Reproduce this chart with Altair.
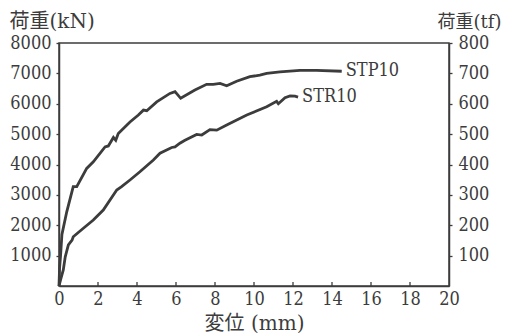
import altair as alt
import pandas as pd

# STP10 curve (displacement mm, load kN)
stp_x = [0, 0.03, 0.08, 0.15, 0.4, 0.73, 0.91, 1.42, 1.76, 2.36, 2.53, 2.79, 2.91, 3.04,
         3.64, 4.07, 4.33, 4.5, 5.01, 5.69, 5.95, 6.24, 6.97, 7.57, 7.91, 8.26, 8.6,
         9.11, 9.79, 10.3, 10.65, 11.33, 12.36, 13.2, 14.5]
stp_y = [0, 600, 1000, 1700, 2450, 3270, 3270, 3870, 4090, 4580, 4610, 4890, 4800, 5020,
         5400, 5630, 5790, 5770, 6060, 6340, 6400, 6180, 6450, 6640, 6640, 6670, 6590,
         6740, 6890, 6940, 7000, 7050, 7100, 7100, 7070]

# STR10 curve
str_x = [0, 0.1, 0.22, 0.32, 0.48, 0.67, 0.73, 1.25, 1.76, 2.27, 2.96, 3.21, 3.64, 4.15,
         4.84, 5.18, 5.78, 5.95, 6.2, 6.46, 7.06, 7.32, 7.74, 8.09, 8.6, 9.63, 10.65,
         11.16, 11.25, 11.59, 11.85, 12.1, 12.26]
str_y = [0, 250, 530, 960, 1350, 1510, 1620, 1900, 2170, 2500, 3160, 3270, 3490, 3760,
         4150, 4370, 4560, 4580, 4700, 4800, 4990, 4970, 5150, 5130, 5300, 5630, 5900,
         6080, 6000, 6200, 6260, 6250, 6220]

series_names = ["STP10", "STR10"]
x_ticks = [0, 2, 4, 6, 8, 10, 12, 14, 16, 18, 20]
y_ticks_kn = [1000, 2000, 3000, 4000, 5000, 6000, 7000, 8000]

FONT = "DejaVu Serif Condensed, DejaVu Serif, Noto Sans CJK JP"
TFONT = "DejaVu Serif, Noto Sans CJK JP"
INK = "#3c3c3c"

df = pd.concat([
    pd.DataFrame({"x": stp_x, "y": stp_y, "s": series_names[0], "i": range(len(stp_x))}),
    pd.DataFrame({"x": str_x, "y": str_y, "s": series_names[1], "i": range(len(str_x))}),
])
labels = pd.DataFrame({
    "x": [stp_x[-1], str_x[-1]],
    "y": [stp_y[-1], str_y[-1]],
    "s": series_names,
})
ticks = pd.DataFrame({"x": x_ticks[1:-1]})

xscale = alt.Scale(domain=[0, 20], nice=False, zero=True)
yscale = alt.Scale(domain=[0, 8000], nice=False, zero=True)

left_axis = alt.Axis(
    orient="left", values=y_ticks_kn, format="d", tickSize=3, labelPadding=5, grid=False,
    labelOverlap=False,
    title="荷重(kN)", titleAngle=0, titleAlign="left", titleBaseline="middle",
    titleX=-50, titleY=-22, titleFontWeight="normal",
)
right_axis = alt.Axis(
    orient="right", values=y_ticks_kn, labelExpr="datum.value / 10", tickSize=3,
    labelPadding=6, grid=False, labelOverlap=False,
    title="荷重(tf)", titleAngle=0, titleAlign="left", titleBaseline="middle",
    titleX=-12, titleY=-21, titleFontWeight="normal", titleFontSize=18,
)
x_axis = alt.Axis(
    values=x_ticks, tickSize=0, labelPadding=4, grid=False, format="d",
    labelOverlap=False, labelFlush=False,
    title="変位 (mm)", titleBaseline="middle", titleY=37, titleFontWeight="normal",
)

lines = alt.Chart(df).mark_line(color=INK, strokeWidth=2.8).encode(
    x=alt.X("x:Q", scale=xscale, axis=x_axis),
    y=alt.Y("y:Q", scale=yscale, axis=left_axis),
    detail="s:N",
    order="i:Q",
)

text = alt.Chart(labels).mark_text(
    align="left", baseline="middle", dx=4, font=FONT, fontSize=18, color=INK
).encode(
    x=alt.X("x:Q", scale=xscale, axis=x_axis),
    y=alt.Y("y:Q", scale=yscale, axis=right_axis),
    text="s:N",
)

inner_ticks = alt.Chart(ticks).mark_rule(color=INK, strokeWidth=1.3).encode(
    x=alt.X("x:Q", scale=xscale, axis=x_axis),
    y=alt.Y(datum=0, axis=None),
    y2=alt.Y2(datum=130),
)

chart = alt.layer(lines, text, inner_ticks).resolve_scale(y="shared").resolve_axis(
    y="independent"
).properties(
    width=390, height=243,
    autosize=alt.AutoSizeParams(type="none"),
    padding={"left": 51, "top": 35, "right": 57, "bottom": 47},
    background="white",
).configure_view(
    stroke=INK, strokeWidth=1.5
).configure_axis(
    labelFont=FONT, titleFont=TFONT, labelFontSize=18, titleFontSize=20,
    labelFontWeight="normal",
    labelColor=INK, titleColor=INK, domainColor=INK, tickColor=INK,
    domainWidth=1.5, tickWidth=1.3,
)

chart.save("out.html", embed_options={"renderer": "svg", "actions": False})
